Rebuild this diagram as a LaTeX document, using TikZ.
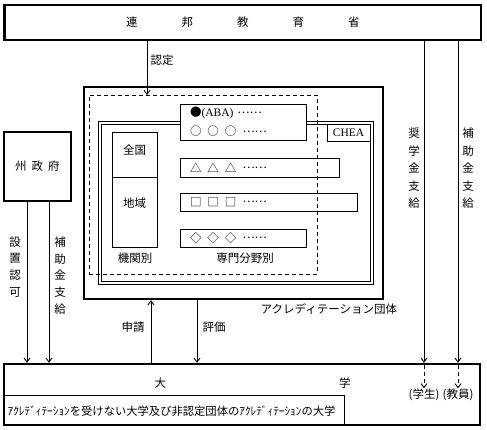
\documentclass[tikz,border=0pt]{standalone}
\usepackage{fontspec}
\setmainfont{Noto Sans CJK JP}
\newfontfamily\abcserif{Liberation Serif}
\newcommand\middots{\raisebox{3.5pt}{……}}
\usetikzlibrary{arrows.meta, positioning}

\begin{document}
\begin{tikzpicture}[
    x=1pt, y=-1pt,
    % Define styles for the nodes
    every node/.style={font=\fontsize{11.5}{14}\selectfont},
    heavy_node/.style={rectangle, draw=black, line width=2.4pt, inner sep=0pt},
    thin_node/.style={rectangle, draw=black, line width=0.9pt, inner sep=0pt, outer sep=0pt},
    dash_node/.style={thin_node, dash pattern=on 4pt off 3pt},
    field_node/.style={thin_node, fill=white, anchor=north west, align=left, inner xsep=10pt, text width=#1},
    label_node/.style={inner sep=0.5pt},
    vlabel_node/.style={inner sep=0pt, align=center, font=\fontsize{11.5}{#1}\selectfont},
    % Styles for arrows
    arrow/.style={-{Straight Barb[length=4pt, width=6pt]}, line width=0.9pt},
    dash_arrow/.style={arrow, dash pattern=on 4pt off 3pt}
]
    \useasboundingbox (0,0) rectangle (487,429);

    % =========================================================================
    % FEDERAL MINISTRY, STATE GOVERNMENT, UNIVERSITY
    % =========================================================================
    \node (ministry) [heavy_node, minimum width=476.5pt, minimum height=35pt] at (242.75,22.5)
        {連\hspace{44pt}邦\hspace{44pt}教\hspace{44pt}育\hspace{44pt}省};

    \node (state_gov) [heavy_node, minimum width=67pt, minimum height=69pt] at (37.5,166.5)
        {州\hspace{5pt}政\hspace{5pt}府};

    % the non-accredited part is drawn first, the heavy frame goes over it
    \node (non_accr) [thin_node, minimum width=340pt, minimum height=30pt] at (174,410) {};
    \node (non_accr_text) [label_node, anchor=west, font=\fontsize{11.3}{14}\selectfont] at (7,411)
        {ｱｸﾚﾃﾞｨﾃｰｼｮﾝを受けない大学及び非認定団体のｱｸﾚﾃﾞｨﾃｰｼｮﾝの大学};

    \node (university) [heavy_node, minimum width=476pt, minimum height=61pt] at (242,394.5) {};
    \node (univ_text) [label_node] at (252.5,383) {大\hspace{173pt}学};

    \node (student) [label_node] at (424,395) {(学生)};
    \node (faculty) [label_node] at (458,395) {(教員)};

    % =========================================================================
    % ACCREDITATION BODIES
    % =========================================================================
    \node (accr_frame) [heavy_node, minimum width=299pt, minimum height=212pt] at (233.5,193) {};
    \node (accr_label) [label_node] at (329,309) {アクレディテーション団体};

    % CHEA: double frame
    \node (chea_outer) [thin_node, minimum width=275pt, minimum height=163pt] at (235.5,202.5) {};
    \node (chea_frame) [thin_node, minimum width=269pt, minimum height=157pt] at (235.5,202.5) {};
    \node (chea_tag) [thin_node, minimum width=43pt, minimum height=17pt, font=\abcserif\fontsize{11.5}{14}\selectfont,
        anchor=north east] at (chea_frame.north east) {CHEA};

    % Institutional column (nation / region)
    \node (nation_cell) [thin_node, minimum width=45pt, minimum height=45pt] at (134.5,154.5) {};
    \node (region_cell) [thin_node, minimum width=45pt, minimum height=70pt, below=0pt of nation_cell] {};
    \node (nation_lbl) [label_node] at ([yshift=4pt]nation_cell.center) {全国};
    \node (region_lbl) [label_node] at ([yshift=9pt]region_cell.center) {地域};

    % Specialised fields
    \node (aba_box) [field_node=106pt, minimum height=36pt, font=\fontsize{11.5}{19}\selectfont] at (180,104)
        {●{\abcserif(ABA)}\hspace{4pt}\middots\\○\hspace{6pt}○\hspace{6pt}○\hspace{6pt}\middots};
    \node (tri_box) [field_node=139pt, minimum height=19pt] at (180,158)
        {△\hspace{6pt}△\hspace{6pt}△\hspace{6pt}\middots};
    \node (sq_box) [field_node=157pt, minimum height=18pt] at (180,193)
        {□\hspace{6pt}□\hspace{6pt}□\hspace{6pt}\middots};
    \node (dia_box) [field_node=106pt, minimum height=18pt] at (180,229)
        {◇\hspace{6pt}◇\hspace{6pt}◇\hspace{6pt}\middots};

    \node (by_inst) [label_node] at (135,258) {機関別};
    \node (by_field) [label_node] at (245,258) {専門分野別};

    \node (dash_frame) [dash_node, minimum width=228pt, minimum height=179pt] at (203,184.5) {};

    % =========================================================================
    % CONNECTORS
    % =========================================================================
    \coordinate (cert_x) at (147,0);
    \coordinate (apply_x) at (151,0);
    \coordinate (eval_x) at (197,0);
    \coordinate (permit_x) at (27,0);
    \coordinate (state_aid_x) at (49,0);

    \draw [arrow] (cert_x |- ministry.south) -- (cert_x |- dash_frame.north);
    \node (cert_lbl) [label_node] at (162,60) {認定};

    \draw [arrow] (apply_x |- university.north) -- (apply_x |- accr_frame.south);
    \node (apply_lbl) [label_node] at (133,327) {申請};
    \draw [arrow] (eval_x |- accr_frame.south) -- (eval_x |- university.north);
    \node (eval_lbl) [label_node] at (214,327) {評価};

    \draw [arrow] (permit_x |- state_gov.south) -- (permit_x |- university.north);
    \node (permit_lbl) [vlabel_node=16.7pt] at (15,267) {設\\置\\認\\可};
    \draw [arrow] (state_aid_x |- state_gov.south) -- (state_aid_x |- university.north);
    \node (state_aid_lbl) [vlabel_node=16.7pt] at (60,275.5) {補\\助\\金\\支\\給};

    \draw [arrow] (student |- ministry.south) -- (student |- university.north);
    \node (grant_lbl) [vlabel_node=17.5pt] at (414,168.5) {奨\\学\\金\\支\\給};
    \draw [arrow] (faculty |- ministry.south) -- (faculty |- university.north);
    \node (fed_aid_lbl) [vlabel_node=17.5pt] at (468,168.5) {補\\助\\金\\支\\給};

    \draw [dash_arrow] ([yshift=-2pt]student |- university.north) -- (student.north);
    \draw [dash_arrow] ([yshift=-2pt]faculty |- university.north) -- (faculty.north);

\end{tikzpicture}
\end{document}
